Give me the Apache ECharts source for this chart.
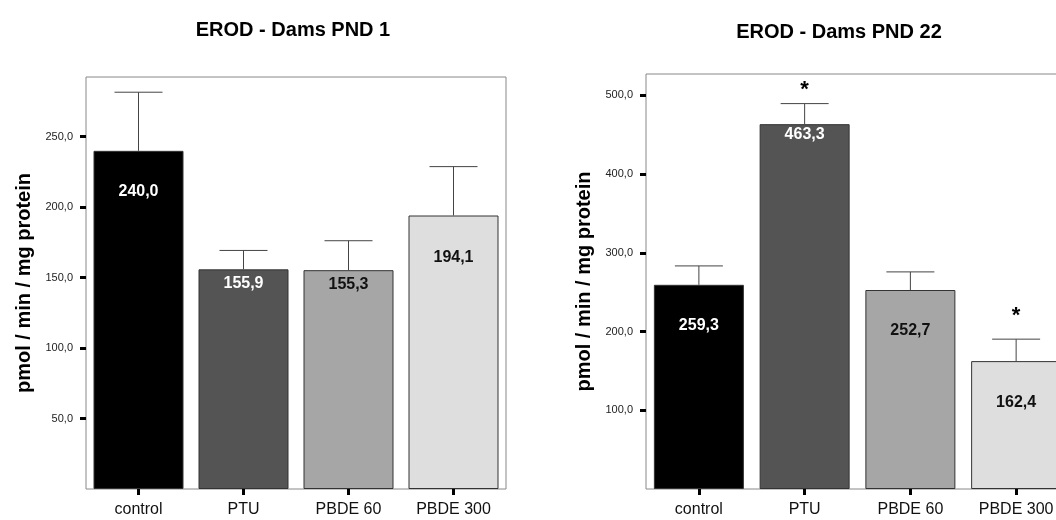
<!DOCTYPE html>
<html>
<head>
<meta charset="utf-8">
<title>EROD - Dams</title>
<script src="https://cdn.jsdelivr.net/npm/echarts@6/dist/echarts.min.js"></script>
<style>
  html, body { margin: 0; padding: 0; background: #fff; }
  #chart { width: 1056px; height: 520px; }
</style>
</head>
<body>
<div id="chart"></div>
<script>
// groups and values
const groups = ["control", "PTU", "PBDE 60", "PBDE 300"];
const pnd1Means = [240.0, 155.9, 155.3, 194.1];
const pnd1Upper = [281.6, 169.3, 176.2, 228.8];
const pnd1Signif = [false, false, false, false];
const pnd22Means = [259.3, 463.3, 252.7, 162.4];
const pnd22Upper = [283.3, 489.4, 275.7, 190.3];
const pnd22Signif = [false, true, false, true];
const pnd1Ticks = [50, 100, 150, 200, 250];
const pnd22Ticks = [100, 200, 300, 400, 500];

// styling
const barColors = ["#000000", "#545454", "#a6a6a6", "#dedede"];
const labelColors = ["#ffffff", "#ffffff", "#111111", "#111111"];
const pnd1LabelGap = [33, 6, 6, 34];
const pnd22LabelGap = [33, 2, 33, 33];
const pnd22StarGap = [0, 14, 0, 23];
const FONT = "'Liberation Sans', Arial, sans-serif";

const comma = (v) => v.toFixed(1).replace(".", ",");

function barSeries(idx, means, gaps) {
  return {
    type: "bar",
    xAxisIndex: idx,
    yAxisIndex: idx,
    barWidth: 90,
    z: 2,
    data: means.map((v, i) => ({
      value: v,
      itemStyle: { color: barColors[i], borderColor: "#333", borderWidth: 1 },
      label: { distance: gaps[i], color: labelColors[i] },
    })),
    label: {
      show: true,
      position: "insideTop",
      fontFamily: FONT,
      fontSize: 16,
      fontWeight: "bold",
      formatter: (p) => comma(p.value),
    },
  };
}

function errorSeries(idx, means, upper, signif, starGap) {
  return {
    type: "custom",
    xAxisIndex: idx,
    yAxisIndex: idx,
    z: 3,
    data: means.map((m, i) => [i, m, upper[i]]),
    renderItem: function (params, api) {
      const i = api.value(0);
      const base = api.coord([i, api.value(1)]);
      const top = api.coord([i, api.value(2)]);
      const st = { stroke: "#444", lineWidth: 1 };
      const kids = [
        { type: "line", shape: { x1: base[0], y1: base[1], x2: top[0], y2: top[1] }, style: st },
        { type: "line", shape: { x1: top[0] - 24, y1: top[1], x2: top[0] + 24, y2: top[1] }, style: st },
      ];
      if (signif && signif[params.dataIndex]) {
        kids.push({
          type: "text",
          x: top[0],
          y: top[1] - starGap[params.dataIndex],
          style: { text: "*", font: "bold 22px " + FONT, align: "center", verticalAlign: "middle", fill: "#000" },
        });
      }
      return { type: "group", children: kids };
    },
  };
}

function xAxis(idx) {
  return {
    type: "category",
    gridIndex: idx,
    data: groups,
    axisLine: { show: false },
    axisTick: { show: true, alignWithLabel: true, length: 6, lineStyle: { color: "#000", width: 3 } },
    axisLabel: { margin: 13, fontFamily: FONT, fontSize: 16, color: "#111" },
  };
}

function yAxis(idx, max, ticks) {
  return {
    type: "value",
    gridIndex: idx,
    min: 0,
    max: max,
    name: "pmol / min / mg protein",
    nameLocation: "middle",
    nameGap: 52,
    nameTextStyle: { fontFamily: FONT, fontSize: 20, fontWeight: "bold", color: "#000" },
    axisLine: { show: false },
    splitLine: { show: false },
    axisTick: { show: true, length: 6, lineStyle: { color: "#000", width: 3 }, customValues: ticks },
    axisLabel: { margin: 13, fontFamily: FONT, fontSize: 11, color: "#222", customValues: ticks, formatter: comma },
  };
}

const chart = echarts.init(document.getElementById("chart"));
chart.setOption({
  animation: false,
  backgroundColor: "#fff",
  title: [
    { text: "EROD - Dams PND 1", left: 293, top: 20, textAlign: "center", padding: 0,
      textStyle: { fontFamily: FONT, fontSize: 20, fontWeight: "bold", color: "#000" } },
    { text: "EROD - Dams PND 22", left: 839, top: 22, textAlign: "center", padding: 0,
      textStyle: { fontFamily: FONT, fontSize: 20, fontWeight: "bold", color: "#000" } },
  ],
  grid: [
    { left: 86, top: 77, width: 420, height: 412, show: true, borderColor: "#888", borderWidth: 1,
      backgroundColor: "#fff", containLabel: false, outerBoundsMode: "none" },
    { left: 646, top: 74, width: 423, height: 415, show: true, borderColor: "#888", borderWidth: 1,
      backgroundColor: "#fff", containLabel: false, outerBoundsMode: "none" },
  ],
  xAxis: [xAxis(0), xAxis(1)],
  yAxis: [yAxis(0, 292.4, pnd1Ticks), yAxis(1, 527, pnd22Ticks)],
  series: [
    barSeries(0, pnd1Means, pnd1LabelGap),
    errorSeries(0, pnd1Means, pnd1Upper, pnd1Signif, [0, 0, 0, 0]),
    barSeries(1, pnd22Means, pnd22LabelGap),
    errorSeries(1, pnd22Means, pnd22Upper, pnd22Signif, pnd22StarGap),
  ],
});
</script>
</body>
</html>
